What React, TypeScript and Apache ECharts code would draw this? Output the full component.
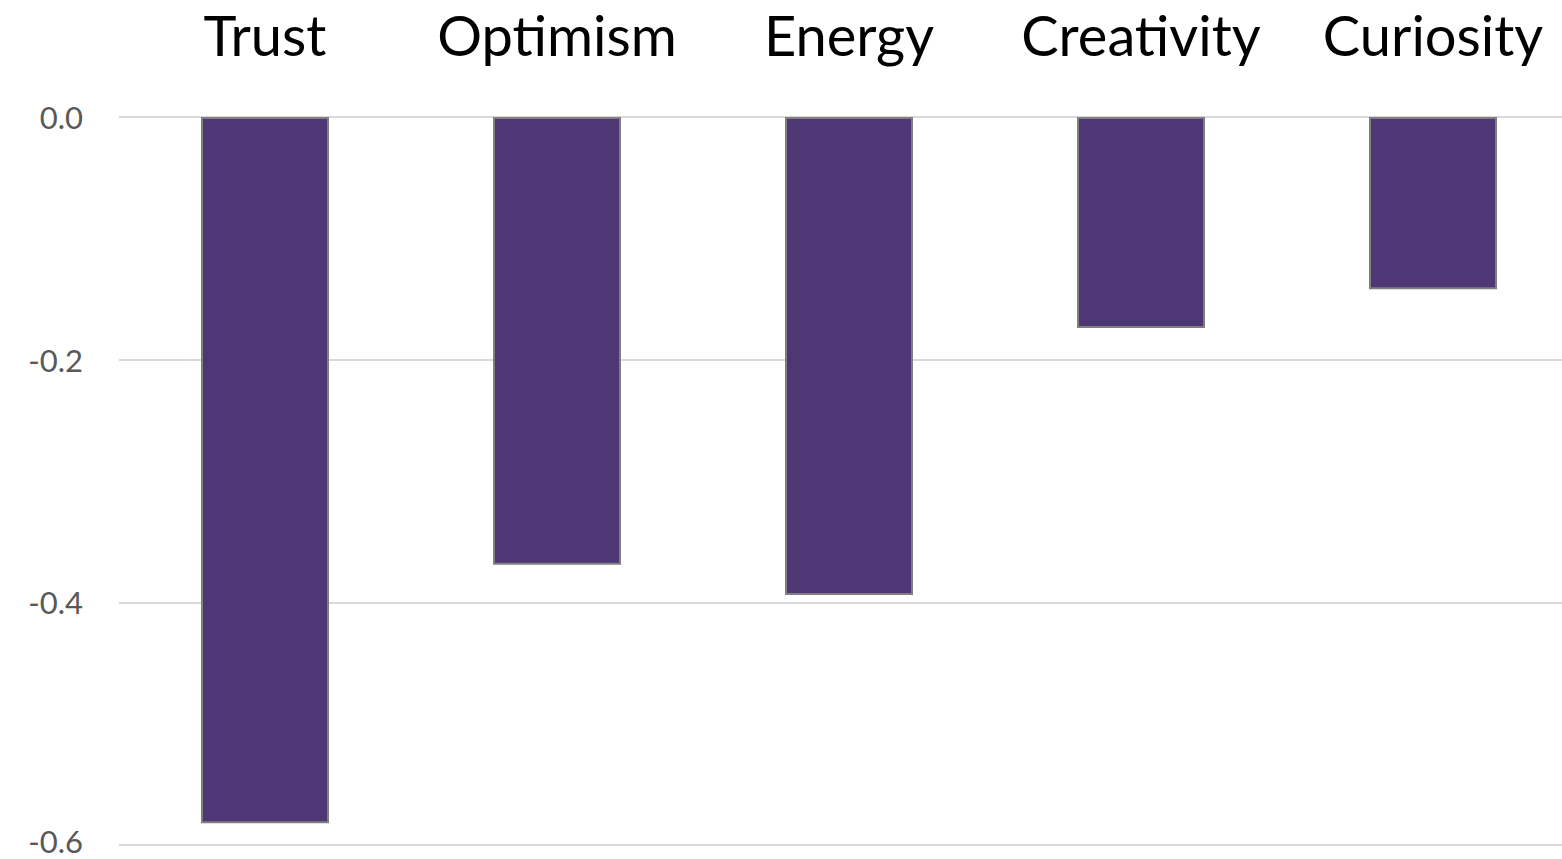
import React, { useEffect, useRef } from "react";
import * as echarts from "echarts";

const categories = ["Trust", "Optimism", "Energy", "Creativity", "Curiosity"];
const values = [-0.582, -0.369, -0.394, -0.174, -0.142];
const yTicks = { min: -0.6, max: 0, interval: 0.2 };

export default function App() {
  const ref = useRef<HTMLDivElement>(null);
  useEffect(() => {
    document.body.style.margin = "0";
    document.body.style.overflow = "hidden";
    const chart = echarts.init(ref.current!, null, { renderer: "svg" });
    chart.setOption({
      animation: false,
      backgroundColor: "#ffffff",
      grid: {
        left: 119,
        right: 0,
        top: 117,
        bottom: 14,
        containLabel: false,
        outerBoundsMode: "none",
      },
      xAxis: {
        type: "category",
        position: "top",
        data: categories,
        axisLine: { show: false },
        axisTick: { show: false },
        axisLabel: {
          color: "#000000",
          fontSize: 56,
          fontFamily: "Lato",
          margin: 57,
          lineHeight: 52,
          interval: 0,
        },
      },
      yAxis: {
        type: "value",
        min: yTicks.min,
        max: yTicks.max,
        interval: yTicks.interval,
        axisLine: { show: false },
        axisTick: { show: false },
        splitLine: { lineStyle: { color: "#d9d9d9", width: 2 } },
        axisLabel: {
          color: "#595959",
          fontSize: 31,
          fontFamily: "Lato",
          margin: 36,
          lineHeight: 30,
          formatter: (v: number) =>
            v <= yTicks.min + 1e-9 ? `{low|${v.toFixed(1)}}` : v.toFixed(1),
          rich: {
            low: {
              color: "#595959",
              fontSize: 31,
              fontFamily: "Lato",
              lineHeight: 30,
              padding: [0, 0, 8, 0],
            },
          },
        },
      },
      series: [
        {
          type: "bar",
          data: values,
          barWidth: 128,
          itemStyle: { color: "#4f3775", borderColor: "#7f7f7f", borderWidth: 2 },
        },
      ],
    });
    return () => chart.dispose();
  }, []);
  return (
    <div style={{ width: 1562, height: 859, overflow: "hidden", position: "relative" }}>
      <div ref={ref} style={{ width: 1579, height: 859, position: "absolute", left: 0, top: 0 }} />
    </div>
  );
}
